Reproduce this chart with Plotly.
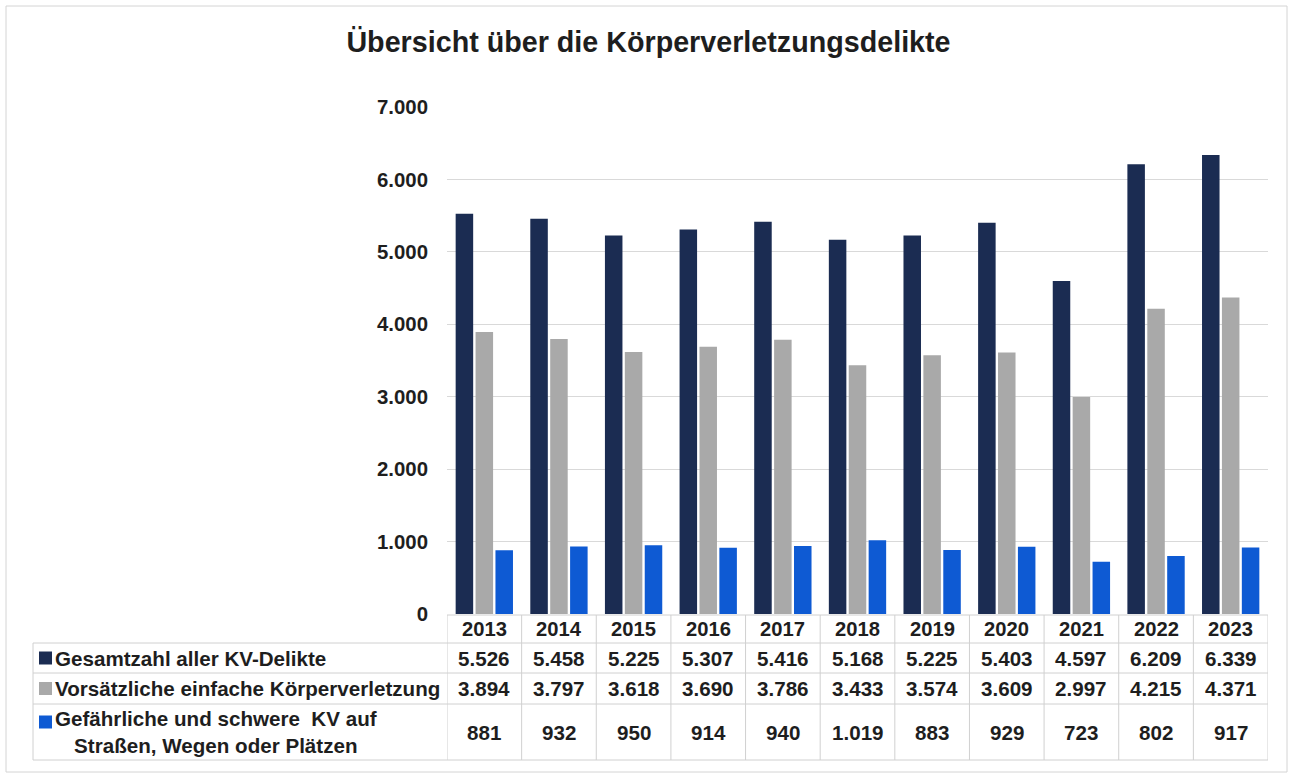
import plotly.graph_objects as go

# ---------------- data ----------------
years = ["2013", "2014", "2015", "2016", "2017", "2018", "2019", "2020", "2021", "2022", "2023"]
series_names = [
    "Gesamtzahl aller KV-Delikte",
    "Vorsätzliche einfache Körperverletzung",
    "Gefährliche und schwere&nbsp; KV auf<br>Straßen, Wegen oder Plätzen",
]
gesamt = [5526, 5458, 5225, 5307, 5416, 5168, 5225, 5403, 4597, 6209, 6339]
vorsaetzlich = [3894, 3797, 3618, 3690, 3786, 3433, 3574, 3609, 2997, 4215, 4371]
gefaehrlich = [881, 932, 950, 914, 940, 1019, 883, 929, 723, 802, 917]
series_values = [gesamt, vorsaetzlich, gefaehrlich]
colors = ["#1b2c52", "#a9a9a9", "#0e5ad3"]
y_ticks = [0, 1000, 2000, 3000, 4000, 5000, 6000, 7000]
title_text = "Übersicht über die Körperverletzungsdelikte"

# ---------------- layout helpers (pixel -> paper) ----------------
W, H = 1293, 778
FONT = "Liberation Sans, Arial, sans-serif"
TXT = "#1e1e1e"
GRID = "#d9d9d9"
BORDER = "#d0d0d0"


def px(x):
    return x / W


def py(y):
    return 1 - y / H


def fmt(v):
    return f"{v:,}".replace(",", ".")


plot_left, plot_right = 447, 1268
y0_px, y7000_px = 614, 107

fig = go.Figure()
for name, vals, col in zip(series_names, series_values, colors):
    fig.add_trace(go.Bar(
        x=years, y=vals, name=name.replace("&nbsp;", " ").replace("<br>", " "),
        marker=dict(color=col, line=dict(width=0)),
        showlegend=False, hoverinfo="x+y",
    ))

# table geometry (rows: header, 3 series)
row_edges = [615, 643, 673, 704, 760]
table_left = 33

shapes = []
# outer frame
shapes.append(dict(type="rect", xref="paper", yref="paper",
                   x0=px(6), x1=px(1287), y0=py(772), y1=py(6),
                   line=dict(color="#d4d4d4", width=1), layer="below"))
# header top line: only over the year columns
shapes.append(dict(type="line", xref="x", yref="paper", x0=-0.5, x1=len(years) - 0.5,
                   y0=py(row_edges[0]), y1=py(row_edges[0]), line=dict(color=BORDER, width=1)))
for yy in row_edges[1:]:
    shapes.append(dict(type="line", xref="paper", yref="paper", x0=px(table_left), x1=px(plot_right),
                       y0=py(yy), y1=py(yy), line=dict(color=BORDER, width=1)))
# vertical lines between year columns
for i in range(len(years) + 1):
    shapes.append(dict(type="line", xref="x", yref="paper", x0=i - 0.5, x1=i - 0.5,
                       y0=py(row_edges[0]), y1=py(row_edges[-1]), line=dict(color=BORDER, width=1)))
# left table border
shapes.append(dict(type="line", xref="paper", yref="paper", x0=px(table_left), x1=px(table_left),
                   y0=py(row_edges[1]), y1=py(row_edges[-1]), line=dict(color=BORDER, width=1)))

annotations = []
# header years
for i, yr in enumerate(years):
    annotations.append(dict(xref="x", yref="paper", x=i, y=py((row_edges[0] + row_edges[1]) / 2),
                            text=f"<b>{yr}</b>", showarrow=False, xanchor="center", yanchor="middle",
                            font=dict(family=FONT, size=20.2, color=TXT)))
# series rows
for r, (name, vals, col) in enumerate(zip(series_names, series_values, colors)):
    top, bot = row_edges[r + 1], row_edges[r + 2]
    cy = (top + bot) / 2
    for i, v in enumerate(vals):
        annotations.append(dict(xref="x", yref="paper", x=i, y=py(cy),
                                text=f"<b>{fmt(v)}</b>", showarrow=False, xanchor="center",
                                yanchor="middle", font=dict(family=FONT, size=20.6, color=TXT)))
    # legend key square
    key_cy = cy if r < 2 else top + 18
    shapes.append(dict(type="rect", xref="paper", yref="paper", x0=px(39), x1=px(52),
                       y0=py(key_cy + 6.5), y1=py(key_cy - 6.5), fillcolor=col, line=dict(width=0)))
    annotations.append(dict(xref="paper", yref="paper", x=px(53), y=py(cy),
                            text=f"<b>{name}</b>", showarrow=False, xanchor="left", yanchor="middle",
                            align="center", font=dict(family=FONT, size=20.6, color=TXT)))

fig.update_layout(
    width=W, height=H,
    margin=dict(l=0, r=0, t=0, b=0, pad=0, autoexpand=False),
    paper_bgcolor="white", plot_bgcolor="white",
    separators=",.",
    barmode="group", bargap=0.2, bargroupgap=0.12,
    title=dict(text=f"<b>{title_text}</b>", x=px(648.5), xanchor="center",
               y=py(42), yanchor="middle", yref="container", xref="container",
               font=dict(family=FONT, size=28.7, color=TXT)),
    xaxis=dict(domain=[px(plot_left), px(plot_right)], type="category", automargin=False,
               range=[-0.5, len(years) - 0.5], showticklabels=False,
               showgrid=False, zeroline=False, showline=False, fixedrange=True),
    yaxis=dict(domain=[py(y0_px), py(y7000_px)], range=[0, 7000], automargin=False,
               tickvals=y_ticks, ticktext=[f"<b>{fmt(t)}</b>" for t in y_ticks],
               showgrid=True, gridcolor=GRID, gridwidth=1, zeroline=False, showline=False,
               ticks="", ticklabelstandoff=18,
               tickfont=dict(family=FONT, size=20.4, color=TXT), fixedrange=True),
    shapes=shapes,
    annotations=annotations,
    font=dict(family=FONT, color=TXT),
)

fig.write_html("out.html", config={"displayModeBar": False},
               post_script="document.body.style.margin='0';document.body.style.overflow='hidden';")
